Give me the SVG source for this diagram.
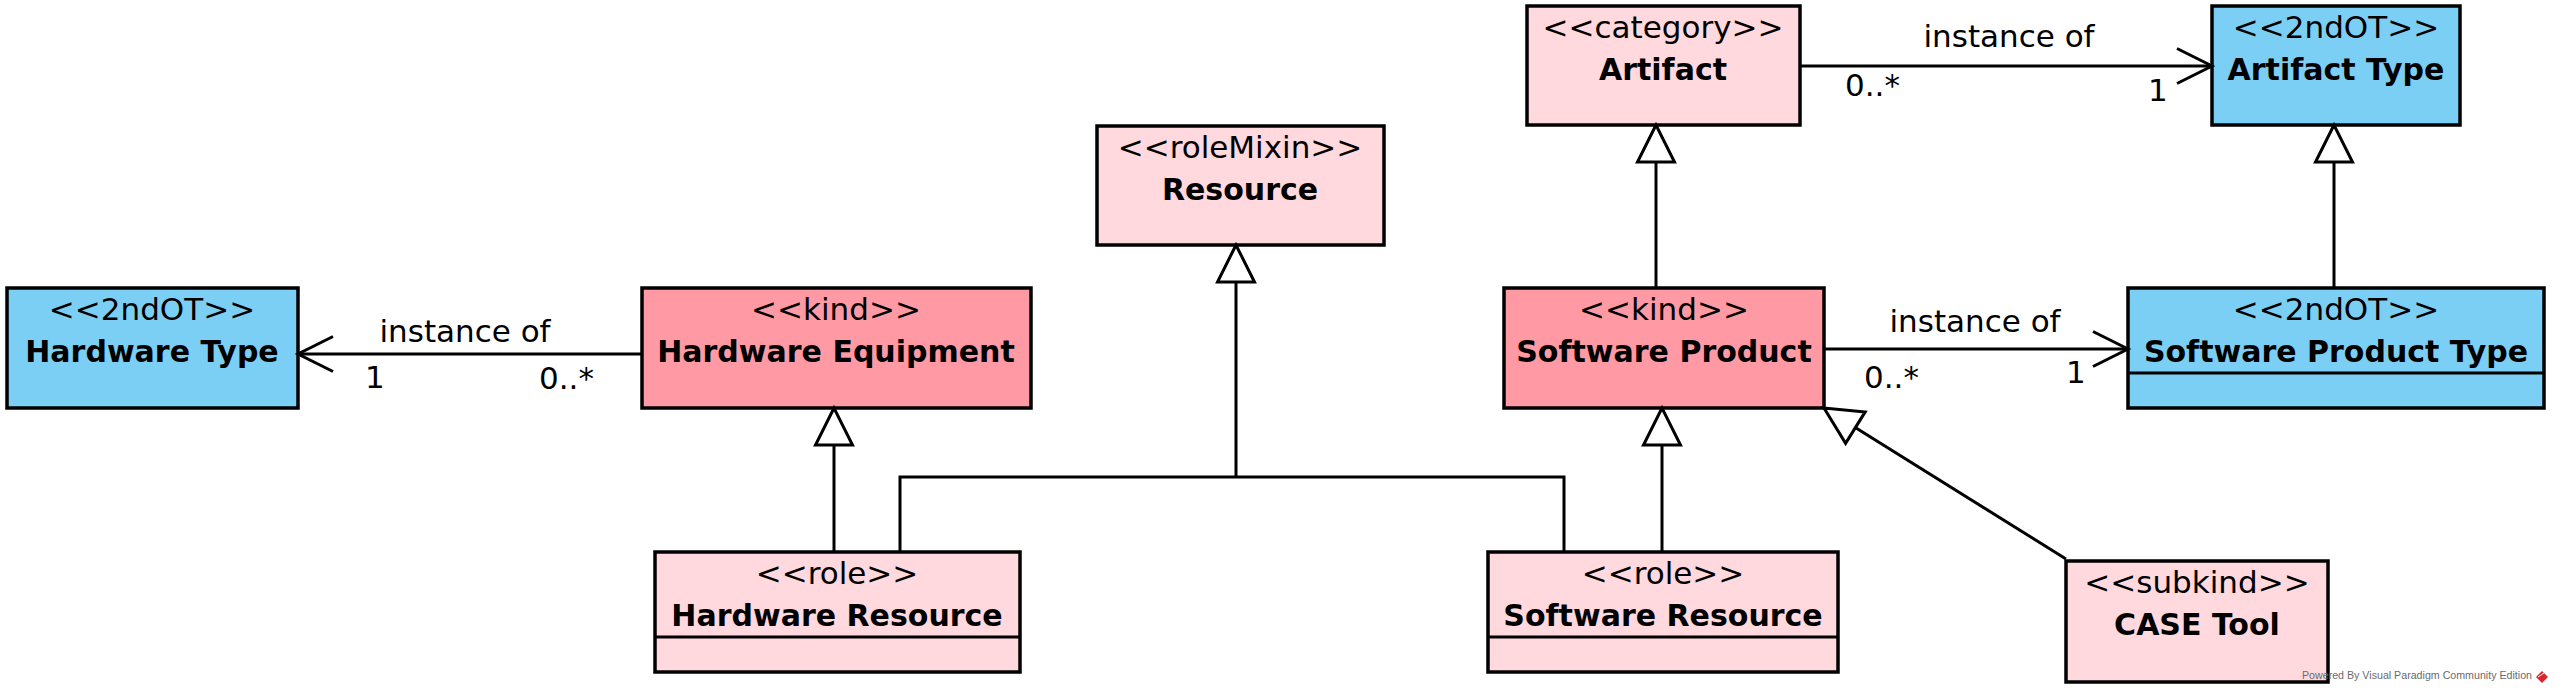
<svg xmlns="http://www.w3.org/2000/svg" width="2556" height="693" viewBox="0 0 2556 693">
<style>
.box{stroke:#000;stroke-width:3.5}
.lp{fill:#FFD9DD}
.dp{fill:#FF99A3}
.bl{fill:#7BCFF5}
.st{font-family:"DejaVu Sans",sans-serif;font-size:31px;text-anchor:middle;fill:#000}
.nm{font-family:"DejaVu Sans",sans-serif;font-size:30px;font-weight:bold;text-anchor:middle;fill:#000}
.lb{font-family:"DejaVu Sans",sans-serif;font-size:31px;fill:#000}
.ln{fill:none;stroke:#000;stroke-width:3}
.wm{font-family:"Liberation Sans",Arial,sans-serif;font-size:11px;fill:#6b6b6b}
</style>
<defs>
<marker id="gen" viewBox="-42 -24 46 48" markerWidth="46" markerHeight="48" refX="0" refY="0" orient="auto" markerUnits="userSpaceOnUse">
<path d="M0,0 L-37,-18.5 L-37,18.5 Z" fill="#fff" stroke="#000" stroke-width="3"/>
</marker>
<marker id="open" viewBox="-42 -24 46 48" markerWidth="46" markerHeight="48" refX="0" refY="0" orient="auto" markerUnits="userSpaceOnUse">
<path d="M-35,-17.5 L0,0 L-35,17.5" fill="none" stroke="#000" stroke-width="3"/>
</marker>
</defs>
<rect width="2556" height="693" fill="#fff"/>

<g id="hardware-type">
<rect class="box bl" x="7" y="288" width="291" height="120"/>
<text class="st" x="152" y="320">&lt;&lt;2ndOT&gt;&gt;</text>
<text class="nm" x="152" y="362">Hardware Type</text>
</g>
<g id="hardware-equipment">
<rect class="box dp" x="642" y="288" width="389" height="120"/>
<text class="st" x="836" y="320">&lt;&lt;kind&gt;&gt;</text>
<text class="nm" x="836" y="362">Hardware Equipment</text>
</g>
<g id="resource">
<rect class="box lp" x="1097" y="126" width="287" height="119"/>
<text class="st" x="1240" y="158">&lt;&lt;roleMixin&gt;&gt;</text>
<text class="nm" x="1240" y="200">Resource</text>
</g>
<g id="artifact">
<rect class="box lp" x="1527" y="6" width="273" height="119"/>
<text class="st" x="1663" y="38">&lt;&lt;category&gt;&gt;</text>
<text class="nm" x="1663" y="80">Artifact</text>
</g>
<g id="artifact-type">
<rect class="box bl" x="2212" y="6" width="248" height="119"/>
<text class="st" x="2336" y="38">&lt;&lt;2ndOT&gt;&gt;</text>
<text class="nm" x="2336" y="80">Artifact Type</text>
</g>
<g id="software-product">
<rect class="box dp" x="1504" y="288" width="320" height="120"/>
<text class="st" x="1664" y="320">&lt;&lt;kind&gt;&gt;</text>
<text class="nm" x="1664" y="362">Software Product</text>
</g>
<g id="software-product-type">
<rect class="box bl" x="2128" y="288" width="416" height="120"/>
<line class="ln" x1="2128" y1="373" x2="2544" y2="373"/>
<text class="st" x="2336" y="320">&lt;&lt;2ndOT&gt;&gt;</text>
<text class="nm" x="2336" y="362">Software Product Type</text>
</g>
<g id="hardware-resource">
<rect class="box lp" x="655" y="552" width="365" height="120"/>
<line class="ln" x1="655" y1="637" x2="1020" y2="637"/>
<text class="st" x="837" y="584">&lt;&lt;role&gt;&gt;</text>
<text class="nm" x="837" y="626">Hardware Resource</text>
</g>
<g id="software-resource">
<rect class="box lp" x="1488" y="552" width="350" height="120"/>
<line class="ln" x1="1488" y1="637" x2="1838" y2="637"/>
<text class="st" x="1663" y="584">&lt;&lt;role&gt;&gt;</text>
<text class="nm" x="1663" y="626">Software Resource</text>
</g>
<g id="case-tool">
<rect class="box lp" x="2066" y="561" width="262" height="121"/>
<text class="st" x="2197" y="593">&lt;&lt;subkind&gt;&gt;</text>
<text class="nm" x="2197" y="635">CASE Tool</text>
</g>

<g id="connectors">
<path class="ln" d="M642,354 H298" marker-end="url(#open)"/>
<text class="lb" x="465" y="342" text-anchor="middle">instance of</text>
<text class="lb" x="365" y="388">1</text>
<text class="lb" x="539" y="389">0..*</text>

<path class="ln" d="M1800,66 H2212" marker-end="url(#open)"/>
<text class="lb" x="2009" y="47" text-anchor="middle">instance of</text>
<text class="lb" x="1845" y="96">0..*</text>
<text class="lb" x="2148" y="101">1</text>

<path class="ln" d="M1824,349 H2128" marker-end="url(#open)"/>
<text class="lb" x="1975" y="332" text-anchor="middle">instance of</text>
<text class="lb" x="1864" y="388">0..*</text>
<text class="lb" x="2066" y="383">1</text>

<path class="ln" d="M834,552 V408" marker-end="url(#gen)"/>
<path class="ln" d="M1662,552 V408" marker-end="url(#gen)"/>
<path class="ln" d="M1656,288 V125" marker-end="url(#gen)"/>
<path class="ln" d="M2334,288 V125" marker-end="url(#gen)"/>
<path class="ln" d="M900,552 V477 H1564 V552"/>
<path class="ln" d="M1236,477 V245" marker-end="url(#gen)"/>
<path class="ln" d="M2066,559 L1824,408" marker-end="url(#gen)"/>
</g>

<g id="watermark">
<text class="wm" x="2302" y="679" textLength="230" lengthAdjust="spacingAndGlyphs">Powered By Visual Paradigm Community Edition</text>
<polygon points="2542,671 2548,677 2542,683 2536,677" fill="#d9262e"/>
<line x1="2538" y1="677" x2="2544" y2="673" stroke="#fff" stroke-width="1"/>
</g>
</svg>
